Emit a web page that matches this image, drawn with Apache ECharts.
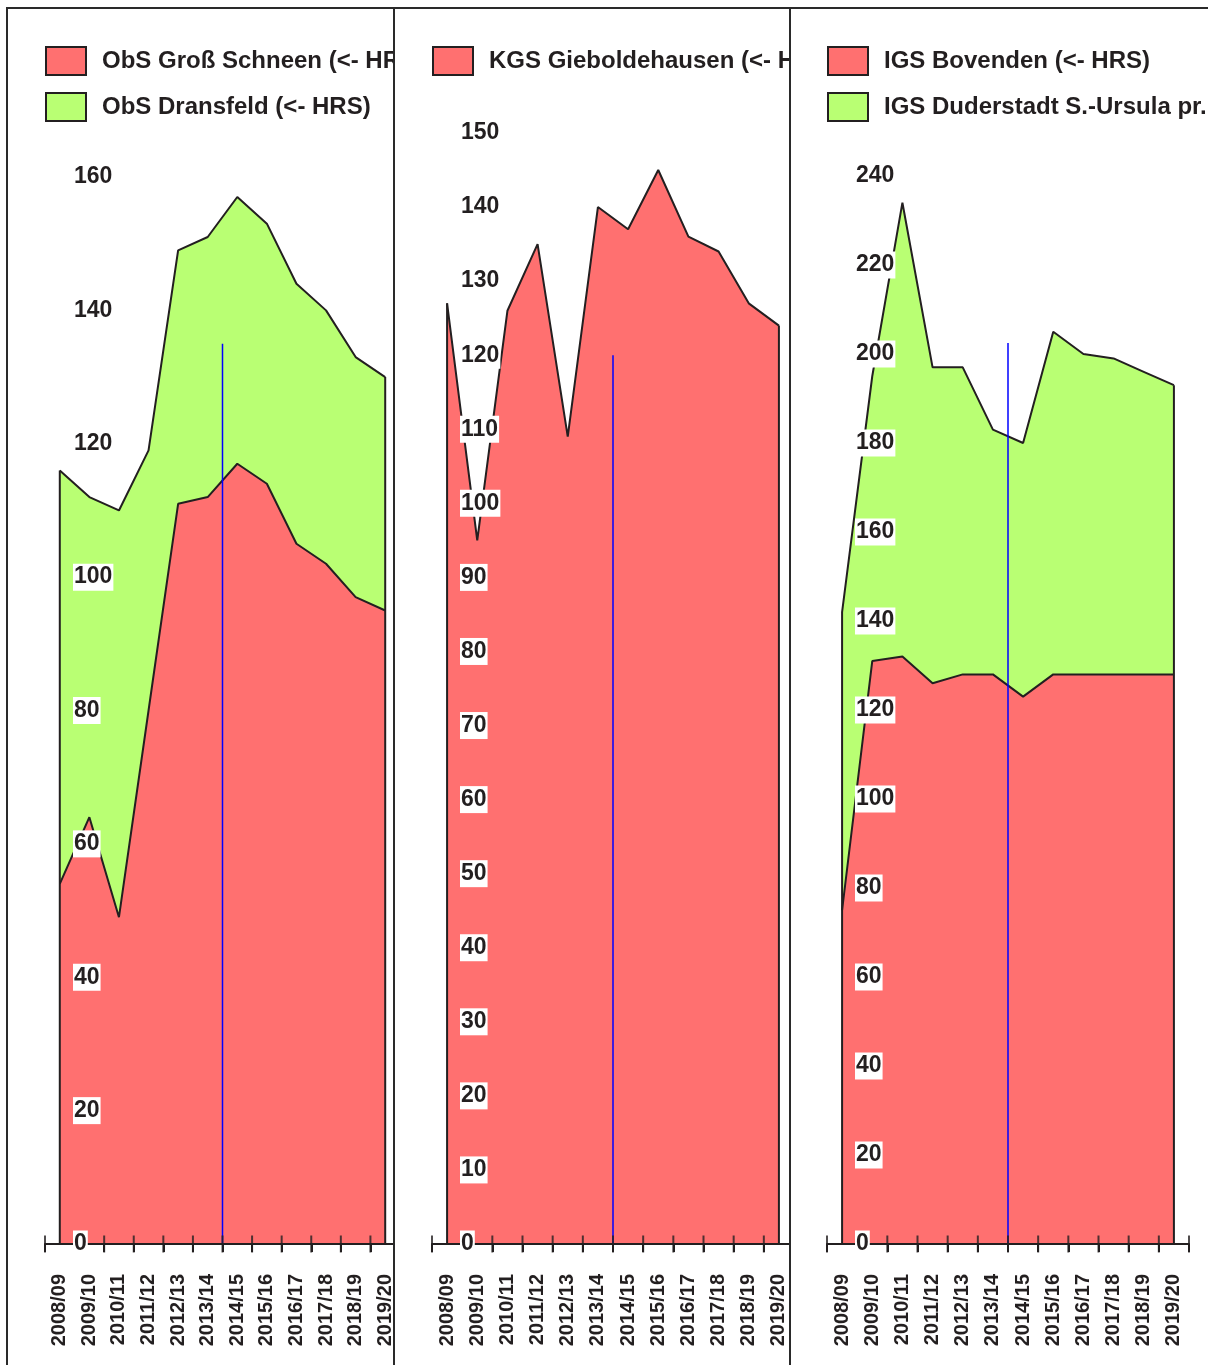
<!DOCTYPE html>
<html>
<head>
<meta charset="utf-8">
<script src="https://cdn.jsdelivr.net/npm/echarts@6/dist/echarts.min.js"></script>
<style>
  html, body { margin: 0; padding: 0; background: #fff; }
  body { width: 1208px; height: 1365px; position: relative; overflow: hidden; }
  .panel { position: absolute; top: 8px; height: 1357px; overflow: hidden; }
  .panel .chart { position: absolute; top: -8px; width: 1208px; height: 1365px; }
  .rule { position: absolute; background: #2a2a2a; }
</style>
</head>
<body>
<div class="panel" style="left:7px;width:386px"><div class="chart" id="c1" style="left:-7px"></div></div>
<div class="panel" style="left:394px;width:395px"><div class="chart" id="c2" style="left:-394px"></div></div>
<div class="panel" style="left:790px;width:418px"><div class="chart" id="c3" style="left:-790px"></div></div>
<div class="rule" style="left:6px;top:7px;width:1202px;height:2px"></div>
<div class="rule" style="left:6px;top:7px;width:2px;height:1358px"></div>
<div class="rule" style="left:393px;top:7px;width:2px;height:1358px"></div>
<div class="rule" style="left:789px;top:7px;width:2px;height:1358px"></div>
<script>
// school years on the x axis
const years = ['2008/09', '2009/10', '2010/11', '2011/12', '2012/13', '2013/14',
  '2014/15', '2015/16', '2016/17', '2017/18', '2018/19', '2019/20'];

// panel 1
const grossSchneen = [54, 64, 49, 80, 111, 112, 117, 114, 105, 102, 97, 95];
const dransfeld = [62, 48, 61, 39, 38, 39, 40, 39, 39, 38, 36, 35];
// panel 2
const gieboldehausen = [127, 95, 126, 135, 109, 140, 137, 145, 136, 134, 127, 124];
// panel 3
const bovenden = [75, 131, 132, 126, 128, 128, 123, 128, 128, 128, 128, 128];
const duderstadt = [67, 64, 102, 71, 69, 55, 57, 77, 72, 71, 68, 65];

// blue marker between 2013/14 and 2014/15, its top per panel
const markerPos = 5.5;
const markerTop = [135, 120, 202.5];

const INK = '#231f20';
const RED = '#ff7070';
const GREEN = '#b9ff73';
const FONT = 'Liberation Sans, Arial, sans-serif';

function buildChart(id, cfg) {
  const chart = echarts.init(document.getElementById(id));
  const totals = years.map((_, i) => cfg.series.reduce((s, d) => s + d.data[i], 0));
  const last = years.length - 1;

  const areas = cfg.series.map(s => ({
    name: s.name,
    type: 'line',
    stack: 'total',
    data: s.data,
    symbol: 'none',
    z: 2,
    itemStyle: { color: s.color },
    lineStyle: { color: INK, width: 2 },
    areaStyle: { color: s.color, opacity: 1 }
  }));

  const edge = (x, top) => ({
    type: 'line',
    xAxisIndex: 1,
    data: [[x, 0], [x, top]],
    symbol: 'none',
    silent: true,
    z: 3,
    lineStyle: { color: INK, width: 2 }
  });

  // tick marks crossing the x axis, one at every category boundary
  const crossTicks = years.map((_, i) => [i - 0.5, 0]).concat([[last + 0.5, 0]]);

  chart.setOption({
    animation: false,
    legend: {
      data: cfg.series.map(s => s.name),
      orient: 'vertical',
      left: cfg.left,
      top: 46,
      padding: 0,
      icon: 'rect',
      itemWidth: 40,
      itemHeight: 28,
      itemGap: 16,
      itemStyle: { borderColor: INK, borderWidth: 2 },
      textStyle: {
        color: INK, fontSize: 24, fontWeight: 'bold', fontFamily: FONT,
        lineHeight: 28, padding: [0, 0, 0, 11]
      }
    },
    grid: { left: cfg.left, width: cfg.width, top: cfg.top, height: 1244 - cfg.top },
    xAxis: [{
      type: 'category',
      data: years,
      position: 'bottom',
      boundaryGap: true,
      z: 5,
      axisLine: { show: true, lineStyle: { color: INK, width: 2 } },
      axisTick: { show: true, length: 8, lineStyle: { color: INK, width: 2 } },
      axisLabel: {
        rotate: 90, interval: 0, margin: 30,
        color: INK, fontSize: 20, fontWeight: 'bold',
        fontFamily: 'Liberation Sans Narrow, Liberation Sans, Arial, sans-serif'
      },
      splitLine: { show: false }
    }, {
      type: 'value',
      min: -0.5,
      max: years.length - 0.5,
      show: false
    }],
    yAxis: {
      type: 'value',
      min: 0,
      max: cfg.max,
      interval: cfg.interval,
      z: 10,
      axisLine: { show: false },
      axisTick: { show: false },
      splitLine: { show: false },
      axisLabel: {
        inside: true, margin: 28,
        color: INK, fontSize: 23, fontWeight: 'bold', fontFamily: FONT,
        backgroundColor: '#fff', padding: [1, 1, 1, 1], lineHeight: 25
      }
    },
    series: [
      ...areas,
      edge(0, totals[0]),
      edge(last, totals[last]),
      {
        type: 'line',
        xAxisIndex: 1,
        data: [[markerPos, 0], [markerPos, cfg.marker]],
        symbol: 'none',
        silent: true,
        z: 4,
        lineStyle: { color: '#0000ff', width: 1.5 }
      },
      {
        type: 'scatter',
        xAxisIndex: 1,
        data: crossTicks,
        symbol: 'rect',
        symbolSize: [2, 17],
        clip: false,
        silent: true,
        z: 5,
        itemStyle: { color: INK }
      }
    ]
  });
  return chart;
}

buildChart('c1', {
  left: 45, width: 355, top: 177, max: 160, interval: 20, marker: markerTop[0],
  series: [
    { name: 'ObS Groß Schneen (<- HRS)', data: grossSchneen, color: RED },
    { name: 'ObS Dransfeld (<- HRS)', data: dransfeld, color: GREEN }
  ]
});

buildChart('c2', {
  left: 432, width: 362, top: 133, max: 150, interval: 10, marker: markerTop[1],
  series: [
    { name: 'KGS Gieboldehausen (<- HRS)', data: gieboldehausen, color: RED }
  ]
});

buildChart('c3', {
  left: 827, width: 362, top: 176, max: 240, interval: 20, marker: markerTop[2],
  series: [
    { name: 'IGS Bovenden (<- HRS)', data: bovenden, color: RED },
    { name: 'IGS Duderstadt S.-Ursula pr. (<- HRS)', data: duderstadt, color: GREEN }
  ]
});
</script>
</body>
</html>
